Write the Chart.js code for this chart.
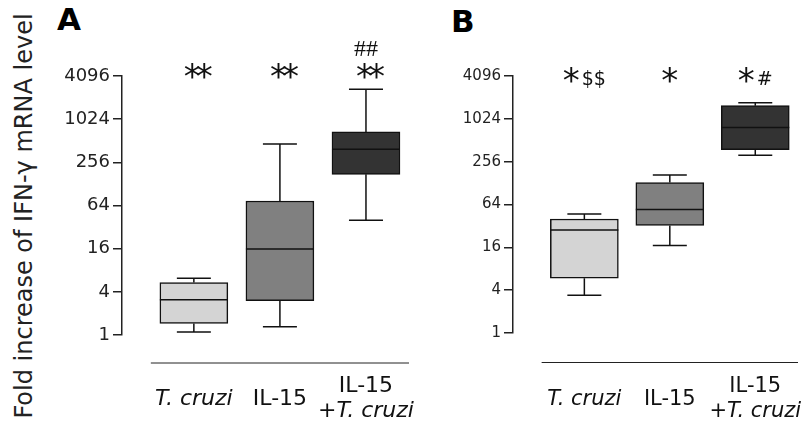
<!DOCTYPE html>
<html>
<head>
<meta charset="utf-8">
<script src="https://cdn.jsdelivr.net/npm/chart.js@4.4.1/dist/chart.umd.min.js"></script>
<style>
  html, body { margin: 0; padding: 0; background: #fff; }
  #wrap { position: relative; width: 805px; height: 425px; overflow: hidden; }
  #ca { position: absolute; left: 0; top: 0; }
  #cb { position: absolute; left: 420px; top: 0; }
  #ytitle {
    position: absolute; left: 24px; top: 216px;
    transform: translate(-50%, -50%) rotate(-90deg);
    white-space: nowrap; font: 24px "DejaVu Sans"; color: #222;
  }
  .panel { position: absolute; font: bold 31px "DejaVu Sans"; color: #000; }
</style>
</head>
<body>
<div id="wrap">
  <div id="ytitle">Fold increase of IFN-γ mRNA level</div>
  <div class="panel" style="left:57px;top:1px">A</div>
  <div class="panel" style="left:451px;top:3px">B</div>
  <canvas id="ca" width="420" height="425"></canvas>
  <canvas id="cb" width="385" height="425"></canvas>
</div>
<script>
// groups and y ticks (log2 steps)
var groups = ["T. cruzi", "IL-15", "IL-15\n+T. cruzi"];
var yTicks = [1, 4, 16, 64, 256, 1024, 4096];
var boxColors = ["#d4d4d4", "#808080", "#333333"];

// panel A: box plot stats (fold increase)
var aMin = [1.1, 1.3, 40];
var aQ1 = [1.45, 3.0, 174];
var aMed = [3.1, 15.8, 390];
var aQ3 = [5.4, 74, 680];
var aMax = [6.2, 460, 2670];
var aStars = ["**", "**", "**"];
var aMarks = ["", "", "##"];

// panel B
var bMin = [3.4, 17, 316];
var bQ1 = [5.9, 32.5, 376];
var bMed = [28, 54.5, 773];
var bQ3 = [40, 130, 1570];
var bMax = [47, 166, 1720];
var bStars = ["*", "*", "*"];
var bMarks = ["$$", "", "#"];

function segs(line) {
  // italicise the species name
  var k = line.indexOf("T. cruzi");
  if (k < 0) return [{ t: line, it: false }];
  var out = [];
  if (k > 0) out.push({ t: line.slice(0, k), it: false });
  out.push({ t: "T. cruzi", it: true });
  return out;
}

var boxExtras = {
  id: "boxExtras",
  afterDatasetsDraw: function (chart, args, o) {
    var ctx = chart.ctx, xs = chart.scales.x, ys = chart.scales.y;
    var bars = chart.getDatasetMeta(0).data;
    ctx.save();
    ctx.strokeStyle = "#111";
    ctx.lineWidth = 1.5;
    o.med.forEach(function (m, i) {
      var cx = xs.getPixelForValue(i), half = bars[i].width / 2, cap = bars[i].width / 4;
      var yMed = ys.getPixelForValue(m);
      var yHi = ys.getPixelForValue(o.max[i]), yLo = ys.getPixelForValue(o.min[i]);
      var yQ3 = ys.getPixelForValue(o.q3[i]), yQ1 = ys.getPixelForValue(o.q1[i]);
      ctx.beginPath();
      ctx.moveTo(cx - half, yMed); ctx.lineTo(cx + half, yMed);
      ctx.moveTo(cx, yQ3); ctx.lineTo(cx, yHi);
      ctx.moveTo(cx - cap, yHi); ctx.lineTo(cx + cap, yHi);
      ctx.moveTo(cx, yQ1); ctx.lineTo(cx, yLo);
      ctx.moveTo(cx - cap, yLo); ctx.lineTo(cx + cap, yLo);
      ctx.stroke();
    });

    // separator line under the plot
    var lineY = chart.chartArea.bottom + o.sepGap;
    ctx.beginPath();
    ctx.lineWidth = 1;
    ctx.strokeStyle = "#222";
    ctx.moveTo(xs.getPixelForValue(-0.5), lineY);
    ctx.lineTo(xs.getPixelForValue(2.5), lineY);
    ctx.stroke();

    // category labels
    ctx.fillStyle = "#111";
    ctx.textBaseline = "alphabetic";
    groups.forEach(function (g, i) {
      var lines = g.split("\n");
      var cx = xs.getPixelForValue(i);
      var offs = lines.length === 1 ? [42] : [29, 54];
      lines.forEach(function (line, j) {
        var parts = segs(line), w = 0;
        parts.forEach(function (p) {
          ctx.font = (p.it ? "italic " : "") + o.labelSize + 'px "DejaVu Sans"';
          p.w = ctx.measureText(p.t).width;
          w += p.w;
        });
        var x = cx - w / 2;
        ctx.textAlign = "left";
        parts.forEach(function (p) {
          ctx.font = (p.it ? "italic " : "") + o.labelSize + 'px "DejaVu Sans"';
          ctx.fillText(p.t, x, lineY + offs[j]);
          x += p.w;
        });
      });
    });

    // significance marks
    var top = chart.chartArea.top;
    o.stars.forEach(function (s, i) {
      var cx = xs.getPixelForValue(i);
      ctx.font = o.starFont;
      ctx.letterSpacing = o.starSpacing;
      var sw = ctx.measureText(s).width;
      ctx.letterSpacing = "0px";
      var mark = o.marks[i];
      if (o.marksAbove) {
        ctx.textAlign = "center";
        ctx.font = o.starFont;
        ctx.letterSpacing = o.starSpacing;
        ctx.fillText(s, cx + 2, top + o.starDy);
        ctx.letterSpacing = "0px";
        if (mark) {
          ctx.font = o.markFont;
          ctx.fillText(mark, cx, top + o.markDy);
        }
      } else {
        ctx.font = o.markFont;
        var mw = mark ? ctx.measureText(mark).width + 2 : 0;
        var x0 = cx - (sw + mw) / 2;
        ctx.textAlign = "left";
        ctx.font = o.starFont;
        ctx.fillText(s, x0, top + o.starDy);
        if (mark) {
          ctx.font = o.markFont;
          ctx.fillText(mark, x0 + sw + 2, top + o.markDy);
        }
      }
    });
    ctx.restore();
  }
};

function boxChart(id, d, o) {
  return new Chart(document.getElementById(id), {
    type: "bar",
    data: {
      datasets: [{
        data: d.q1.map(function (v, i) { return { x: i, y: [v, d.q3[i]] }; }),
        backgroundColor: boxColors,
        borderColor: "#111",
        borderWidth: 1.5,
        borderSkipped: false,
        barThickness: 68
      }]
    },
    options: {
      responsive: false,
      animation: false,
      layout: { padding: { top: 76, bottom: o.bottom, left: 0, right: o.right } },
      plugins: {
        legend: { display: false },
        tooltip: { enabled: false },
        boxExtras: Object.assign({}, d, o.extras)
      },
      scales: {
        x: { type: "linear", display: false, min: -0.835, max: 2.5, offset: false },
        y: {
          type: "logarithmic",
          min: 1,
          max: 4096,
          afterBuildTicks: function (s) { s.ticks = yTicks.map(function (v) { return { value: v }; }); },
          afterFit: function (s) { s.width = o.axisW; },
          ticks: {
            font: { family: "DejaVu Sans", size: o.tickSize },
            color: "#222",
            padding: 3,
            autoSkip: false,
            callback: function (v) { return String(v); }
          },
          grid: { drawOnChartArea: false, tickLength: 9, color: "#222", lineWidth: 1.5 },
          border: { color: "#222", width: 1.5 }
        }
      }
    },
    plugins: [boxExtras]
  });
}

boxChart("ca",
  { min: aMin, q1: aQ1, med: aMed, q3: aQ3, max: aMax, stars: aStars, marks: aMarks },
  { bottom: 90, right: 11, axisW: 122, tickSize: 18,
    extras: { sepGap: 28, labelSize: 22, marksAbove: true,
      starFont: '34px "DejaVu Sans"', starSpacing: "-5px", starDy: 12,
      markFont: '24px "Liberation Serif"', markDy: -20 } });

boxChart("cb",
  { min: bMin, q1: bQ1, med: bMed, q3: bQ3, max: bMax, stars: bStars, marks: bMarks },
  { bottom: 92, right: 7, axisW: 93, tickSize: 15,
    extras: { sepGap: 29.5, labelSize: 21, marksAbove: false,
      starFont: '34px "DejaVu Sans"', starSpacing: "0px", starDy: 16,
      markFont: '19px "DejaVu Sans"', markDy: 9 } });
</script>
</body>
</html>
